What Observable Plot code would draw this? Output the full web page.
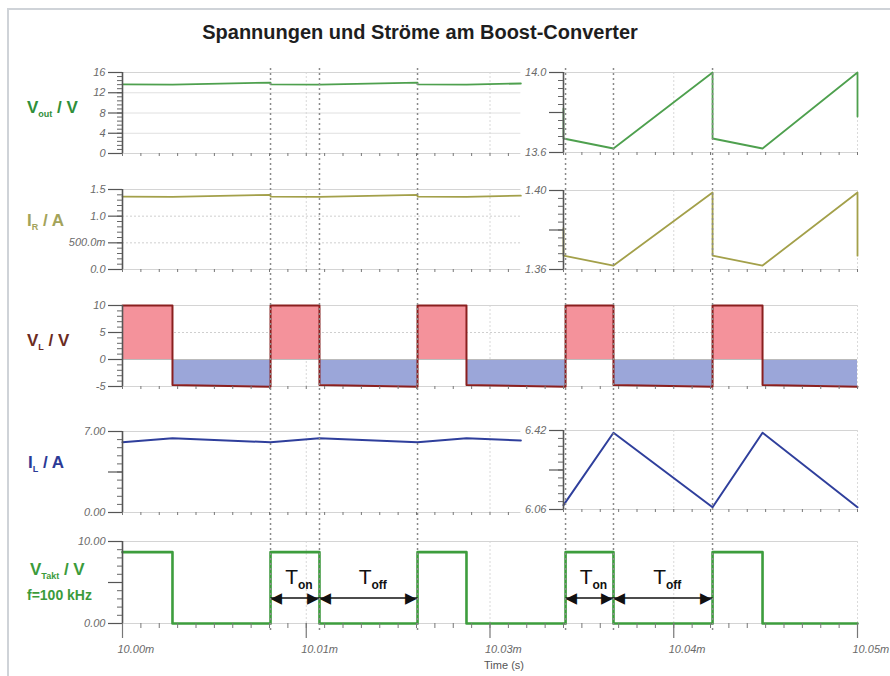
<!DOCTYPE html>
<html><head><meta charset="utf-8">
<script src="https://cdn.jsdelivr.net/npm/d3@7"></script>
<script src="https://cdn.jsdelivr.net/npm/@observablehq/plot@0.6"></script>
<style>
body{margin:0;background:#fff;}
#root{position:relative;width:890px;height:676px;overflow:hidden;font-family:"Liberation Sans",Arial,sans-serif;background:#fff;}
#frame{position:absolute;left:7px;top:8px;width:900px;height:700px;border-top:2px solid #cfd3d8;border-left:2px solid #cfd3d8;}
.yl{position:absolute;font-weight:bold;font-size:17px;white-space:nowrap;line-height:20px;}
.yl sub{font-size:9px;vertical-align:-4px;line-height:0;}
#title{position:absolute;left:420px;top:21px;transform:translateX(-50%);font-weight:bold;font-size:20px;color:#1e1e1e;white-space:nowrap;}
#xlabel{position:absolute;left:504px;top:659px;transform:translateX(-50%);font-size:11px;color:#555;white-space:nowrap;}
</style></head><body><div id="root">
<div id="frame"></div>
<div id="title">Spannungen und Ströme am Boost-Converter</div>
<div class="yl" style="left:27px;top:98px;color:#2f8f3a">V<sub>out</sub> / V</div>
<div class="yl" style="left:27px;top:211px;color:#a3a35a">I<sub>R</sub> / A</div>
<div class="yl" style="left:27px;top:331px;color:#6b2b1f">V<sub>L</sub> / V</div>
<div class="yl" style="left:28px;top:453px;color:#2c3a96">I<sub>L</sub> / A</div>
<div class="yl" style="left:30px;top:560px;color:#3b9b3b">V<sub>Takt</sub> / V</div>
<div class="yl" style="left:27px;top:585px;color:#3b9b3b;font-size:14px">f=100 kHz</div>
<div id="xlabel">Time (s)</div>
</div>
<script>
// ---- time axis (µs after 10.00 ms) ----
const tickTimes = [0, 12.5, 25, 37.5, 50];
const tickLabels = ["10.00m", "10.01m", "10.03m", "10.04m", "10.05m"];
const markerTimes = [10.07, 13.4, 20.07, 30.14, 33.4, 40.14];
const leftRange = [0, 27.1];
const rightRange = [30.0, 50];
const fullRange = [0, 50];

// ---- V_out ----
const voutLT = [0, 3.4, 10.07, 10.07, 13.4, 20.07, 20.07, 23.4, 27.1];
const voutLV = [13.67, 13.62, 14.0, 13.67, 13.62, 14.0, 13.67, 13.62, 13.83];
const voutRT = [30.0, 30.0, 33.4, 40.14, 40.14, 43.54, 50, 50];
const voutRV = [13.82, 13.67, 13.62, 14.0, 13.67, 13.62, 14.0, 13.78];

// ---- I_R ----
const irLT = [0, 3.4, 10.07, 10.07, 13.4, 20.07, 20.07, 23.4, 27.1];
const irLV = [1.367, 1.362, 1.399, 1.367, 1.362, 1.399, 1.367, 1.362, 1.384];
const irRT = [30.0, 30.0, 33.4, 40.14, 40.14, 43.54, 50, 50];
const irRV = [1.381, 1.367, 1.362, 1.399, 1.367, 1.362, 1.399, 1.367];

// ---- V_L ----
const vlT = [0, 3.4, 3.4, 10.07, 10.07, 13.4, 13.4, 20.07, 20.07, 23.4, 23.4, 30.14, 30.14, 33.4, 33.4, 40.14, 40.14, 43.54, 43.54, 50];
const vlV = [10, 10, -4.7, -5.05, 10, 10, -4.7, -5.05, 10, 10, -4.7, -5.05, 10, 10, -4.7, -5.05, 10, 10, -4.7, -5.05];

// ---- I_L ----
const ilLT = [0, 3.4, 10.07, 13.4, 20.07, 23.4, 27.1];
const ilLV = [6.07, 6.41, 6.07, 6.41, 6.07, 6.41, 6.22];
const ilRT = [30.0, 33.4, 40.14, 43.54, 50];
const ilRV = [6.08, 6.41, 6.07, 6.41, 6.07];

// ---- V_Takt ----
const taktT = [0, 3.4, 10.07, 13.4, 20.07, 23.4, 30.14, 33.4, 40.14, 43.54, 50];
const taktV = [8.7, 0, 8.7, 0, 8.7, 0, 8.7, 0, 8.7, 0, 0];

// ---- annotations ----
const spanStart = [10.07, 13.4, 30.14, 33.4];
const spanEnd = [13.4, 20.07, 33.4, 40.14];
const spanSub = ["on", "off", "on", "off"];
const arrowLevel = 3.1;

// ---- y ticks ----
const voutLTicks = [0, 4, 8, 12, 16], voutLLabels = ["0", "4", "8", "12", "16"];
const voutRTicks = [13.6, 13.8, 14.0], voutRLabels = ["13.6", "", "14.0"];
const irLTicks = [0, 0.5, 1.0, 1.5], irLLabels = ["0.0", "500.0m", "1.0", "1.5"];
const irRTicks = [1.36, 1.38, 1.40], irRLabels = ["1.36", "", "1.40"];
const vlTicks = [-5, 0, 5, 10], vlLabels = ["-5", "0", "5", "10"];
const ilLTicks = [0, 3.5, 7], ilLLabels = ["0.00", "", "7.00"];
const ilRTicks = [6.06, 6.24, 6.42], ilRLabels = ["6.06", "", "6.42"];
const taktTicks = [0, 5, 10], taktLabels = ["0.00", "", "10.00"];

// ---------------------------------------------------------------
const root = document.getElementById("root");
const X0 = 122, X1 = 857;
const PXUS = (X1 - X0) / 50;
const KX = 1 / PXUS;
const xGridTimes = tickTimes.slice(1, -1);
const xMinorTimes = d3.range(0, 50.001, 1.25);
const pts = (T, V) => T.map((t, i) => ({t, v: V[i]}));

function place(svg, top) {
  svg.style.position = "absolute";
  svg.style.left = "0px";
  svg.style.top = top + "px";
  root.appendChild(svg);
}

function panel(o) {
  const mt = 12, mb = o.mb ?? 12;
  const [xa, xb] = o.xDomain, [ya, yb] = o.yDomain;
  const x0px = X0 + xa * PXUS, x1px = X0 + xb * PXUS;
  const ky = (yb - ya) / (o.bottom - o.top);
  const majors = o.ticks.map((v, i) => ({v, label: o.labels[i]}));
  const minors = d3.range(ya, yb + o.minorStep / 2, o.minorStep);
  const inX = t => t > xa + 1e-6 && t < xb - 1e-6;
  const marks = [
    Plot.ruleY(o.gridSolid ?? [], {y: d => d, stroke: "#e0e0e0"}),
    Plot.ruleY(o.gridDot ?? [], {y: d => d, stroke: "#cfcfcf", strokeDasharray: "2,2"}),
    Plot.ruleX(xGridTimes.filter(inX), {x: d => d, stroke: "#d8d8d8", strokeDasharray: "2,2"}),
    Plot.ruleY([ya, yb], {y: d => d, stroke: "#d4d4d4", strokeWidth: 1.2}),
    o.frameRight ? Plot.ruleX([xb], {x: d => d, stroke: "#dadada", strokeDasharray: "2,2"}) : null,
    ...o.marks,
    Plot.ruleX(xMinorTimes.filter(t => t >= xa - 1e-6 && t <= xb + 1e-6), {x: d => d, y1: () => ya, y2: () => ya - (o.xTick ?? 3) * ky, stroke: "#777"}),
    Plot.ruleX([xa], {x: d => d, stroke: "#555", strokeWidth: 1.6}),
    Plot.ruleY(minors, {y: d => d, x1: () => xa - 5 * KX, x2: () => xa, stroke: "#666"}),
    Plot.ruleY(majors, {y: "v", x1: () => xa - 14 * KX, x2: () => xa, stroke: "#555", strokeWidth: 1.2}),
    Plot.text(majors.filter(d => d.label), {x: () => xa, y: "v", text: "label", dx: -17, textAnchor: "end", fontStyle: "italic", fontSize: 11, fill: "#6a6a6a"}),
    ...(o.extra ?? [])
  ].filter(Boolean);
  const svg = Plot.plot({
    width: 890, height: o.bottom - o.top + mt + mb,
    marginLeft: x0px, marginRight: 890 - x1px, marginTop: mt, marginBottom: mb,
    x: {domain: o.xDomain, axis: null},
    y: {domain: o.yDomain, axis: null},
    style: {background: "transparent", overflow: "visible", fontFamily: "Liberation Sans, Arial, sans-serif"},
    marks
  });
  place(svg, o.top - mt);
  return ky;
}

// colours
const cVout = "#4ea04e", cIR = "#a3a04a", cVL = "#8a1f1f", cIL = "#2f3f9c", cTakt = "#3d9d3d";

// V_out
panel({top: 72, bottom: 153, xDomain: leftRange, yDomain: [0, 16], ticks: voutLTicks, labels: voutLLabels, minorStep: 0.8,
  gridSolid: [4, 8, 12],
  marks: [Plot.line(pts(voutLT, voutLV), {x: "t", y: "v", stroke: cVout, strokeWidth: 1.8})]});
panel({top: 72, bottom: 152, xDomain: rightRange, yDomain: [13.6, 14.0], ticks: voutRTicks, labels: voutRLabels, minorStep: 0.04, frameRight: true,
  marks: [Plot.line(pts(voutRT, voutRV), {x: "t", y: "v", stroke: cVout, strokeWidth: 1.8})]});

// I_R
panel({top: 189, bottom: 269, xDomain: leftRange, yDomain: [0, 1.5], ticks: irLTicks, labels: irLLabels, minorStep: 0.1,
  gridDot: [0.5, 1.0],
  marks: [Plot.line(pts(irLT, irLV), {x: "t", y: "v", stroke: cIR, strokeWidth: 1.8})]});
panel({top: 190, bottom: 269, xDomain: rightRange, yDomain: [1.36, 1.40], ticks: irRTicks, labels: irRLabels, minorStep: 0.004, frameRight: true,
  marks: [Plot.line(pts(irRT, irRV), {x: "t", y: "v", stroke: cIR, strokeWidth: 1.8})]});

// V_L
const vlRows = pts(vlT, vlV);
const vlPos = vlRows.filter(d => d.v > 0).map((d, i) => ({...d, seg: Math.floor(i / 2)}));
const vlNeg = vlRows.filter(d => d.v < 0).map((d, i) => ({...d, seg: Math.floor(i / 2)}));
panel({top: 305, bottom: 386, xDomain: fullRange, yDomain: [-5, 10], ticks: vlTicks, labels: vlLabels, minorStep: 1, frameRight: true,
  gridDot: [5], gridSolid: [0],
  marks: [
    Plot.areaY(vlPos, {x: "t", y1: () => 0, y2: "v", z: "seg", fill: "#f4929b"}),
    Plot.areaY(vlNeg, {x: "t", y1: () => 0, y2: "v", z: "seg", fill: "#9ba6d9"}),
    Plot.ruleY([0], {y: d => d, stroke: "#bbb"}),
    Plot.line(vlRows, {x: "t", y: "v", stroke: cVL, strokeWidth: 2})
  ]});

// I_L
panel({top: 431, bottom: 512, xDomain: leftRange, yDomain: [0, 7], ticks: ilLTicks, labels: ilLLabels, minorStep: 0.7,
  marks: [Plot.line(pts(ilLT, ilLV), {x: "t", y: "v", stroke: cIL, strokeWidth: 2})]});
panel({top: 430, bottom: 509, xDomain: rightRange, yDomain: [6.06, 6.42], ticks: ilRTicks, labels: ilRLabels, minorStep: 0.036, frameRight: true,
  marks: [Plot.line(pts(ilRT, ilRV), {x: "t", y: "v", stroke: cIL, strokeWidth: 2})]});

// V_Takt + time axis
const spans = spanStart.map((s, i) => ({s, e: spanEnd[i], sub: spanSub[i]}));
const kyT = 10 / (623 - 541);
panel({top: 541, bottom: 623, mb: 50, xTick: 5, xDomain: fullRange, yDomain: [0, 10], ticks: taktTicks, labels: taktLabels, minorStep: 1, frameRight: true,
  marks: [Plot.line(pts(taktT, taktV), {x: "t", y: "v", curve: "step-after", stroke: cTakt, strokeWidth: 2.6})],
  extra: [
    Plot.ruleX(tickTimes, {x: d => d, y1: () => 0, y2: () => -15 * kyT, stroke: "#777", strokeWidth: 1.2}),
    Plot.text(tickTimes, {x: d => d, y: () => 0, dy: 26, dx: -5, text: d => tickLabels[tickTimes.indexOf(d)], textAnchor: "start", fontStyle: "italic", fontSize: 11, fill: "#6a6a6a"}),
    Plot.link(spans, {x1: d => d.s, x2: d => d.e, y1: () => arrowLevel, y2: () => arrowLevel, stroke: "#111", strokeWidth: 1.5}),
    Plot.text(spans, {x: "s", y: () => arrowLevel, text: () => "◀", textAnchor: "start", dx: 0, fontSize: 15, fill: "#111", fontFamily: "DejaVu Sans"}),
    Plot.text(spans, {x: "e", y: () => arrowLevel, text: () => "▶", textAnchor: "end", dx: -1, fontSize: 15, fill: "#111", fontFamily: "DejaVu Sans"}),
    Plot.text(spans, {x: d => (d.s + d.e) / 2, y: () => arrowLevel, text: () => "T", textAnchor: "end", dx: 3, dy: -21, fontSize: 21, fill: "#111"}),
    Plot.text(spans, {x: d => (d.s + d.e) / 2, y: () => arrowLevel, text: "sub", textAnchor: "start", dx: 3, dy: -13, fontSize: 12, fontWeight: "bold", fill: "#111"})
  ]});

// dotted marker lines across all panels
const overlay = Plot.plot({
  width: 890, height: 562, marginLeft: X0, marginRight: 890 - X1, marginTop: 0, marginBottom: 0,
  x: {domain: fullRange, axis: null},
  style: {background: "transparent", overflow: "visible"},
  marks: [Plot.ruleX(markerTimes, {x: d => d, stroke: "#8a8a8a", strokeDasharray: "2,3", strokeWidth: 1.5})]
});
place(overlay, 68);
</script></body></html>
